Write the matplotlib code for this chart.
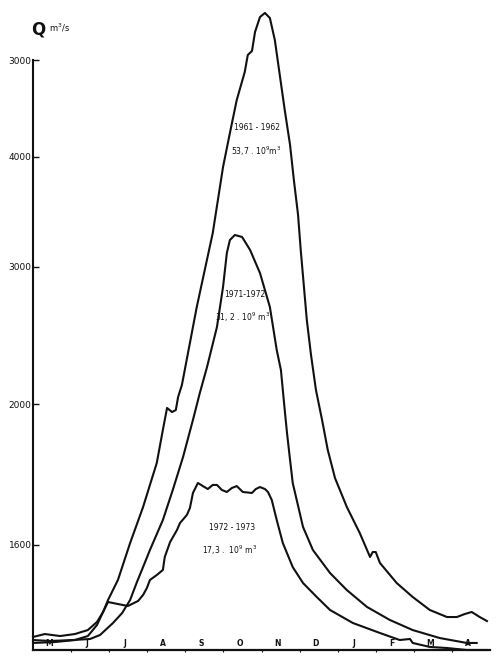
import numpy as np
import matplotlib
matplotlib.use("Agg")
import matplotlib.pyplot as plt

# time in months from 1 May, discharge in m3/s
t_6162 = [0, 0.31, 0.71, 1.10, 1.44, 1.68, 1.84, 1.97, 2.23, 2.55, 2.89, 3.25, 3.41, 3.52,
          3.65, 3.75, 3.81, 3.91, 4.30, 4.72, 4.99, 5.17, 5.35, 5.56, 5.64, 5.75, 5.83, 5.96,
          6.09, 6.22, 6.35, 6.48, 6.61, 6.75, 6.85, 6.96, 7.03, 7.11, 7.19, 7.30, 7.43, 7.59,
          7.74, 7.93, 8.24, 8.58, 8.85, 8.92, 9.00, 9.11, 9.55, 9.97, 10.42, 10.87, 11.13,
          11.34, 11.52, 11.73, 11.92]
q_6162 = [124, 152, 133, 152, 190, 267, 362, 476, 667, 1014, 1269, 1582, 1816, 1972,
          1943, 1957, 2051, 2139, 2708, 3309, 3909, 4247, 4588, 4876, 5052, 5093, 5289, 5443,
          5485, 5433, 5206, 4845, 4485, 4124, 3791, 3473, 3155, 2869, 2613, 2358, 2102, 1887,
          1674, 1475, 1270, 1085, 886, 933, 933, 829, 638, 505, 381, 314, 314,
          343, 362, 314, 276]

t_7172 = [0, 0.45, 1.05, 1.50, 1.76, 2.10, 2.34, 2.55, 2.73, 2.89, 3.07, 3.41, 3.67, 3.94,
          4.20, 4.38, 4.57, 4.83, 4.99, 5.09, 5.17, 5.30, 5.49, 5.70, 5.96, 6.22, 6.40, 6.51,
          6.56, 6.61, 6.67, 6.75, 6.82, 7.09, 7.35, 7.80, 8.24, 8.77, 9.37, 9.97, 10.68,
          11.39, 11.65]
q_7172 = [95, 86, 95, 105, 143, 257, 352, 476, 648, 790, 952, 1177, 1390, 1624,
          1887, 2080, 2270, 2562, 2854, 3127, 3245, 3291, 3273, 3155, 2956, 2708, 2394, 2248,
          2102, 1957, 1794, 1603, 1440, 1128, 952, 733, 571, 410, 286, 190, 114,
          67, 67]

t_7273 = [0, 0.58, 1.10, 1.44, 1.68, 1.84, 1.97, 2.23, 2.49, 2.76, 2.89, 2.99, 3.07, 3.25,
          3.41, 3.46, 3.60, 3.78, 3.86, 4.04, 4.12, 4.20, 4.33, 4.46, 4.59, 4.72, 4.83, 4.96,
          5.09, 5.22, 5.35, 5.51, 5.75, 5.85, 5.96, 6.09, 6.17, 6.27, 6.40, 6.56, 6.82, 7.09,
          7.45, 7.80, 8.40, 9.11, 9.63, 9.90, 9.97, 10.42, 10.87, 11.39, 11.92]
q_7273 = [67, 76, 95, 133, 238, 362, 457, 438, 419, 467, 524, 590, 667, 714,
          762, 886, 1021, 1106, 1156, 1213, 1262, 1369, 1440, 1418, 1397, 1426, 1426, 1390,
          1376, 1404, 1418, 1376, 1369, 1397, 1411, 1397, 1376, 1319, 1177, 1014, 790, 638,
          505, 381, 257, 162, 95, 105, 67, 29, 19, 0, 0]

months = ["M", "J", "J", "A", "S", "O", "N", "D", "J", "F", "M", "A"]
yticks = [1000, 2000, 3000, 4000, 5000]
ylabels = ["1600", "2000", "3000", "4000", "3000"]

# hand drawn axis is not linear: heights of the graduations
q_nodes = [0, 1000, 2000, 3000, 4000, 5000, 6000]
h_nodes = [0, 105, 246, 383, 493, 590, 687]


def fwd(q):
    return np.interp(q, q_nodes, h_nodes)


def inv(h):
    return np.interp(h, h_nodes, q_nodes)


ink = "#111111"
fig = plt.figure(figsize=(5, 6.66), dpi=100)
ax = fig.add_axes([33 / 500, 16 / 666, 457 / 500, 648.2 / 666])
ax.set_yscale("function", functions=(fwd, inv))

for t, q in [(t_6162, q_6162), (t_7172, q_7172), (t_7273, q_7273)]:
    ax.plot(t, q, color=ink, lw=1.5, clip_on=False, solid_joinstyle="round")

ax.set_xlim(0, 12)
ax.set_ylim(0, 5600)

for s in ["top", "right"]:
    ax.spines[s].set_visible(False)
ax.spines["left"].set_bounds(0, 5000)
ax.spines["left"].set_linewidth(1.5)
ax.spines["bottom"].set_linewidth(1.6)
ax.spines["left"].set_color(ink)
ax.spines["bottom"].set_color(ink)

ax.set_yticks(yticks)
ax.set_yticklabels(ylabels)
ax.yaxis.set_minor_locator(plt.NullLocator())
ax.tick_params(axis="y", direction="in", length=4, width=1, pad=1,
               labelsize=6.5, colors=ink)

ax.set_xticks(np.arange(12) + 0.42)
ax.set_xticklabels(months, fontweight="bold")
ax.set_xticks(np.arange(1, 12), minor=True)
ax.tick_params(axis="x", which="major", length=0, pad=-8, labelsize=5.5, colors=ink)
ax.tick_params(axis="x", which="minor", direction="out", length=1.5, width=0.8, colors=ink)

ax.text(5.88, 4309, "1961 - 1962", ha="center", va="center", fontsize=5.5, color=ink)
ax.text(5.85, 4062, "53,7 . 10$^9$m$^3$", ha="center", va="center", fontsize=5.5, color=ink)
ax.text(5.56, 2796, "1971-1972", ha="center", va="center", fontsize=5.5, color=ink)
ax.text(5.51, 2635, "31, 2 . 10$^9$ m$^3$", ha="center", va="center", fontsize=5.5, color=ink)
ax.text(5.22, 1121, "1972 - 1973", ha="center", va="center", fontsize=5.5, color=ink)
ax.text(5.17, 952, "17,3 .  10$^9$ m$^3$", ha="center", va="center", fontsize=5.5, color=ink)

fig.text(0.076, 0.955, "Q", ha="center", va="center", fontsize=12, fontweight="bold", color=ink)
fig.text(0.098, 0.958, "m$^3$/s", ha="left", va="center", fontsize=6, color=ink)

fig.savefig("out.png", dpi=100)
